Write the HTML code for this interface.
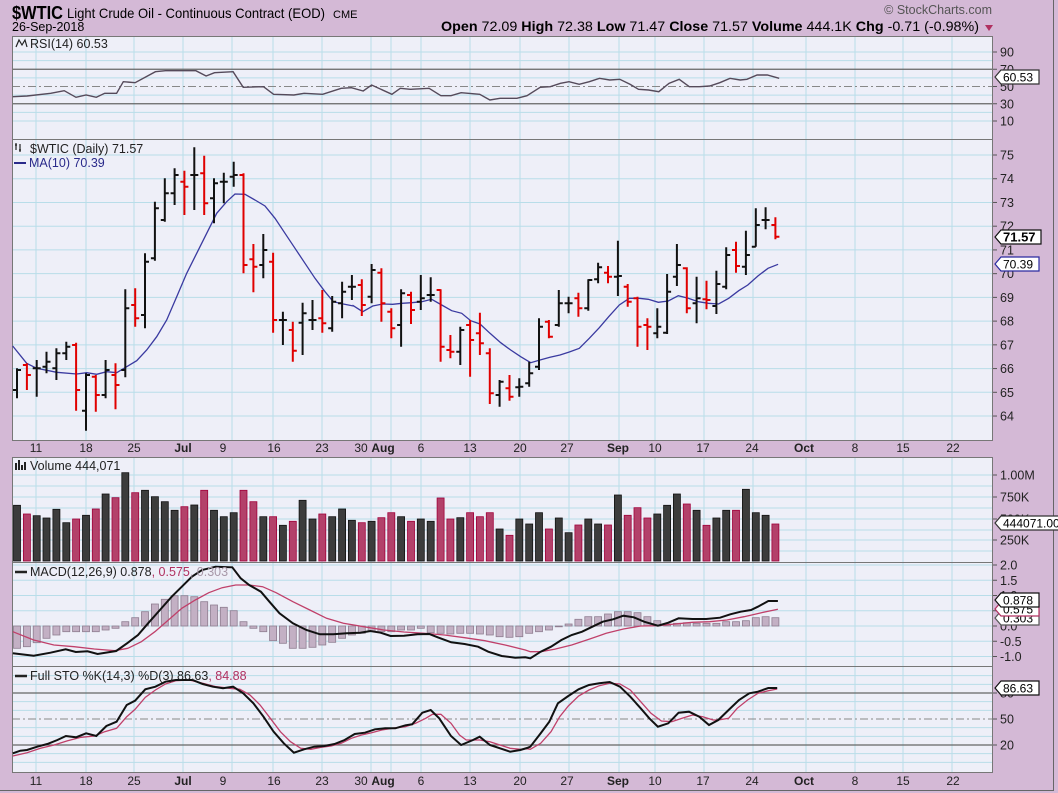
<!DOCTYPE html>
<html><head><meta charset="utf-8"><style>
html,body{margin:0;padding:0;background:#d4b9d6;}
svg{display:block;font-family:"Liberation Sans",sans-serif;}
</style></head><body>
<svg id="s" width="1058" height="793" viewBox="0 0 1058 793" xmlns="http://www.w3.org/2000/svg">
<rect x="0" y="0" width="1058" height="793" fill="#d4b9d6"/>
<line x1="1053.5" y1="0" x2="1053.5" y2="791" stroke="#666"/>
<line x1="0" y1="790.5" x2="1054" y2="790.5" stroke="#666"/>
<g id="bg"></g>
<g id="grid"></g>
<g id="data"></g>
<g font-size="12" fill="#000">
<text x="12" y="19" font-size="18" font-weight="bold" textLength="51" lengthAdjust="spacingAndGlyphs">$WTIC</text>
<text x="67" y="18" font-size="14" textLength="258" lengthAdjust="spacingAndGlyphs">Light Crude Oil - Continuous Contract (EOD)</text>
<text x="333" y="18" font-size="11">CME</text>
<text x="12" y="31" font-size="12.5">26-Sep-2018</text>
<text x="992" y="14" font-size="12.5" fill="#555" text-anchor="end">© StockCharts.com</text>
<text x="441" y="31" font-size="13.5" textLength="538" lengthAdjust="spacingAndGlyphs"><tspan font-weight="bold">Open</tspan> 72.09  <tspan font-weight="bold">High</tspan> 72.38  <tspan font-weight="bold">Low</tspan> 71.47  <tspan font-weight="bold">Close</tspan> 71.57  <tspan font-weight="bold">Volume</tspan> 444.1K  <tspan font-weight="bold">Chg</tspan> -0.71 (-0.98%)</text>
<path d="M985 25 L993 25 L989 31 Z" fill="#b03060"/>
</g>
<g font-size="12.5" fill="#222">
<text x="30" y="48">RSI(14) 60.53</text>
<text x="30" y="153">$WTIC (Daily) 71.57</text>
<text x="29" y="167" fill="#2a2a8a">MA(10) 70.39</text>
<text x="30" y="470">Volume 444,071</text>
<text x="30" y="576">MACD(12,26,9) 0.878<tspan fill="#b03060">, 0.575</tspan><tspan fill="#a898a8">, 0.303</tspan></text>
<text x="30" y="680">Full STO %K(14,3) %D(3) 86.63<tspan fill="#b03060">, 84.88</tspan></text>
</g>
<g stroke="#222" stroke-width="1.2" fill="none">
<path d="M16 47 L19 40 L22 45 L25 40 L27 47"/>
<path d="M16 150 L16 143 M15 145 L17 145 M20 152 L20 144 M19 150 L21 150"/>
<path d="M16 470 V463 M19 470 V460 M22 470 V465 M25 470 V462" stroke-width="2"/>
</g>
<line x1="14" y1="163" x2="26" y2="163" stroke="#2a2a8a" stroke-width="2"/>
<line x1="15" y1="572" x2="27" y2="572" stroke="#222" stroke-width="2.5"/>
<line x1="15" y1="676" x2="27" y2="676" stroke="#222" stroke-width="2.5"/>
<g id="axis" font-size="12" fill="#222"></g>
<g id="tags" font-size="12"></g>
</svg>
<script>
(function(){
var NS="http://www.w3.org/2000/svg";
function el(p,t,a,txt){var e=document.createElementNS(NS,t);for(var k in a)e.setAttribute(k,a[k]);if(txt!=null)e.textContent=txt;document.getElementById(p).appendChild(e);return e;}
var L=12,R=993;
var panels=[[36,139],[139,440],[457,562],[562,666],[666,772]];
panels.forEach(function(p){el('bg','rect',{x:L,y:p[0],width:R-L,height:p[1]-p[0],fill:'#eeeff8'});});
var vx=[36,86,134,183,232,273,322,371,391,421,470,520,569,619,655,704,753,806,855,903,952];
panels.forEach(function(p){vx.forEach(function(x){el('grid','line',{x1:x,y1:p[0],x2:x,y2:p[1],stroke:'#b8dde9','stroke-width':1});});});
function hl(y,c,w,d){var a={x1:L,y1:y,x2:R,y2:y,stroke:c,'stroke-width':w||1};if(d)a['stroke-dasharray']=d;el('grid','line',a);}
function ry(v){return 121-(v-10)*(121-52)/80;}
for(var v=10;v<=90;v+=10){if(v!=70&&v!=30&&v!=50)hl(ry(v),'#b8dde9');}
hl(ry(70),'#666',1.2);hl(ry(30),'#666',1.2);hl(ry(50),'#888',1,'8,3,2,3');
function py(p){return 155+(75-p)*23.73;}
for(var p=64;p<=75;p++)hl(py(p),'#b8dde9');
[475,486,497,508,519,530,540,551].forEach(function(y){hl(y,'#b8dde9');});
function my(v){return 626-v*30.5;}
for(var v=-1;v<=2;v+=0.5)hl(my(v),'#b8dde9');
function sty(v){return 745-(v-20)*(745-693)/60;}
for(var v=0;v<=100;v+=10){if(v!=80&&v!=20&&v!=50)hl(sty(v),'#b8dde9');}
hl(sty(80),'#666',1.2);hl(sty(20),'#666',1.2);hl(sty(50),'#888',1,'8,3,2,3');
panels.forEach(function(p){el('grid','rect',{x:L+0.5,y:p[0]+0.5,width:R-L-1,height:p[1]-p[0],fill:'none',stroke:'#777','stroke-width':1});});
function bx(i){return 17+i*9.85;}
var B=[[685,775,750,690,0],[670,750,675,705,1],[660,770,685,685,0],[635,700,680,665,0],[625,720,685,640,0],[605,660,640,620,0],[608,812,615,750,1],[700,872,812,705,0],[705,815,710,765,1],[660,775,765,690,0],[670,808,705,735,1],[448,712,690,505,0],[445,560,495,535,1],[340,565,525,365,0],[185,362,355,205,0],[115,245,240,160,0],[85,195,160,105,0],[92,225,125,140,1],[22,210,105,105,0],[47,225,100,190,1],[115,250,175,130,0],[98,190,125,125,0],[65,140,110,105,0],[100,400,105,375,1],[312,457,358,380,1],[282,415,375,330,0],[338,578,365,540,1],[515,615,540,540,0],[545,665,570,632,1],[488,645,548,520,0],[480,570,540,540,0],[450,578,535,550,1],[468,575,565,485,0],[425,535,490,455,0],[405,480,440,440,0],
[418,528,435,495,1],[372,490,470,390,0],[385,545,398,490,1],[505,595,515,565,1],[448,620,555,460,0],[455,552,465,510,1],[405,510,485,475,0],[412,485,465,465,0],[448,665,450,620,1],[585,655,630,635,1],[560,675,635,570,0],[540,710,555,600,1],[518,645,580,610,1],[625,792,640,760,1],[720,800,765,725,0],[705,782,745,770,1],[715,770,742,740,0],[665,740,730,700,0],[535,690,680,560,0],[540,595,545,590,1],[450,560,555,490,0],[470,520,490,490,0],[458,530,475,505,1],[418,512,505,420,0],[368,430,418,382,0],[378,430,398,410,1],[302,468,410,408,0],[432,500,440,485,1],[470,620,475,560,1],[535,630,555,560,1],[505,595,580,560,0],[402,582,578,455,0],[312,438,410,375,0],[382,520,385,505,1],
[410,550,490,475,0],[422,508,478,480,1],[392,522,498,432,0],[322,448,440,345,0],[305,398,330,378,1],[272,405,380,345,0],[205,320,320,255,0],[202,268,240,240,0],[232,298,255,290,1]];
var d0='',d1='';
B.forEach(function(b,i){var x=bx(i).toFixed(1),Y=function(z){return (140+z/3).toFixed(1);};
var s='M'+x+' '+Y(b[0])+'V'+Y(b[1])+'M'+(x-4)+' '+Y(b[2])+'H'+x+'M'+x+' '+Y(b[3])+'H'+(+x+4);
if(b[4])d1+=s;else d0+=s;});
function P(a,ox,sx,oy){var o=[];for(var i=0;i<a.length;i+=2)o.push((ox+a[i]/sx).toFixed(1)+','+(oy+a[i+1]/3).toFixed(1));return o.join(' ');}
var ma=P([38,618,80,670,110,685,170,697,230,702,260,698,290,703,320,695,350,698,380,680,410,662,440,630,470,590,500,540,530,470,560,400,590,340,620,280,650,220,680,185,705,162,735,163,765,180,795,198,825,235,855,280,885,325,915,370,945,415,975,455,1000,485,1030,492,1060,498],0,3,140)+' '+
P([40,497,68,515,98,498,128,492,158,493,186,490,215,488,245,485,275,478,305,495,335,512,365,520,392,542,420,552,450,580,482,608,512,630,542,650,572,668,600,660,630,652,660,645,688,636,718,625,748,595,778,563,806,530,838,495,868,475,898,475,925,478,955,487,985,483,1015,467,1045,475,1075,485],340,3,140)+' '+
P([55,490,85,492,115,475,145,452,172,435,202,408,232,385,262,373],690,2.975,140);
el('data','polyline',{points:ma,fill:'none',stroke:'#3a3aa0','stroke-width':1.3});
el('data','path',{d:d0,stroke:'#111','stroke-width':2,fill:'none'});
el('data','path',{d:d1,stroke:'#e00000','stroke-width':2,fill:'none'});
var V=[166,192,197,204,178,218,207,196,177,132,143,68,128,121,140,155,181,170,165,121,181,200,188,121,155,200,200,226,214,151,207,192,200,177,211,218,214,203,188,200,214,207,214,144,207,203,188,200,188,237,256,207,222,188,237,204,248,225,207,222,225,135,196,173,204,192,166,132,162,181,226,204,181,181,118,188,196,222];
V.forEach(function(z,i){var y=450+z/3;var r=B[i][4];el('data','rect',{x:(bx(i)-3.5).toFixed(1),y:y.toFixed(1),width:7,height:(561-y).toFixed(1),fill:r?'#b3416a':'#3c3c3c',stroke:r?'#a0003a':'#111','stroke-width':0.8});});
var H=[595,590,578,565,555,545,545,545,545,540,535,515,503,485,462,448,437,437,440,455,465,472,482,515,535,545,572,580,595,595,592,585,577,565,555,550,545,545,545,540,540,535,548,550,552,550,550,552,555,560,562,560,550,545,540,530,522,508,500,500,492,485,485,488,500,512,522,520,518,520,520,520,515,515,512,503,500,503];
H.forEach(function(z,i){var y=450+z/3,b=626;el('data','rect',{x:(bx(i)-3.5).toFixed(1),y:Math.min(y,b).toFixed(1),width:7,height:Math.max(Math.abs(y-b),0.8).toFixed(1),fill:'#c3b0c4',stroke:'#8e7d90','stroke-width':0.8});});
var msig=P([38,545,100,570,160,585,220,590,280,597,340,602,380,595,420,575,460,545,500,510,540,475,580,450,620,428,660,413,700,405,740,405,780,410,820,428,870,455,920,480,970,505,1020,520,1080,530,1140,540,1200,546,1260,550,1320,555,1380,563,1440,572,1500,585,1560,600],0,2.97,450)+' '+
P([30,605,60,605,100,598,150,585,200,568,250,550,300,537,350,528,400,527,450,522,500,517,550,515,600,510,650,500,700,488,748,478],520,2.9,450);
var mline=P([38,610,100,617,150,608,195,598,225,606,260,604,290,612,345,603,380,578,410,555,440,520,475,480,510,440,540,410,570,380,600,360,640,350,690,352,715,385,740,405,775,425,800,455,830,490,870,520,910,540,950,553,990,553,1030,550,1070,548,1100,543,1130,548,1160,558,1200,557,1240,553,1275,552,1300,562,1340,577,1380,582,1420,590,1450,605,1490,618,1530,623,1560,622],0,2.97,450)+' '+
P([30,625,60,605,90,590,120,570,150,555,180,545,210,530,240,515,270,508,300,497,330,502,360,515,400,527,430,518,460,505,500,507,540,507,580,503,610,493,640,485,670,480,690,470,720,453,748,453],520,2.9,450);
el('data','polyline',{points:msig,fill:'none',stroke:'#c0406a','stroke-width':1.3});
el('data','polyline',{points:mline,fill:'none',stroke:'#111','stroke-width':2});
var rsi=P([38,290,80,288,150,280,190,272,225,292,255,285,285,292,310,280,345,280,365,245,400,248,460,215,490,212,580,212,610,228,635,218,690,215,720,262,780,260,810,283,870,285,900,280,955,283,1010,265,1040,263,1075,273,1100,255,1160,283,1185,265,1215,268,1270,265,1305,287,1335,287,1365,278,1420,283,1450,300,1480,295,1530,295,1560,287],0,2.96,0)+' '+
P([30,262,60,260,90,250,115,245,145,253,175,245,205,235,235,240,265,238,295,253,320,268,350,270,380,275,410,250,440,238,470,260,500,260,530,258,560,248,590,235,620,240,640,238,670,225,700,225,735,235],530,2.95,0);
el('data','polyline',{points:rsi,fill:'none',stroke:'#554a5a','stroke-width':1.4});
var sd=P([38,288,80,278,120,265,160,255,200,242,240,232,280,228,310,215,345,205,375,170,400,148,430,112,460,90,490,72,520,62,560,60,600,70,640,80,680,85,710,88,740,105,770,135,800,175,830,215,860,245,890,265,920,268,950,262,980,258,1010,250,1040,235,1070,225,1100,218,1130,210,1160,205,1200,200,1230,190,1260,175,1280,163,1305,163,1335,190,1360,225,1380,240,1420,240,1450,245,1480,255,1510,265,1540,268,1560,266],0,2.96,660)+' '+
P([30,268,60,250,90,215,115,170,140,138,170,108,200,90,230,77,260,70,290,72,320,90,350,125,380,160,410,183,440,185,470,175,500,165,530,170,560,180,575,180,605,175,630,145,660,120,690,100,720,92,746,87],520,2.9,660);
var sk=P([38,280,60,272,80,270,110,260,140,252,170,240,195,228,225,232,255,220,285,228,315,198,345,185,375,135,400,122,430,88,460,80,490,65,520,60,570,60,600,72,630,80,660,85,690,80,720,100,750,130,780,170,810,215,840,250,870,278,900,268,930,260,960,258,990,252,1020,240,1050,222,1080,218,1110,208,1140,205,1170,205,1200,196,1220,193,1250,158,1275,150,1300,175,1335,228,1365,255,1400,240,1420,230,1450,255,1480,265,1510,275,1540,270,1560,264],0,2.96,660)+' '+
P([30,260,60,220,85,185,110,130,140,108,170,88,200,75,230,70,260,66,290,80,320,110,350,145,375,175,400,200,430,190,460,158,490,155,520,170,548,195,575,180,605,150,635,120,665,100,690,95,720,84,746,84],520,2.9,660);
el('data','polyline',{points:sd,fill:'none',stroke:'#c0406a','stroke-width':1.3});
el('data','polyline',{points:sk,fill:'none',stroke:'#111','stroke-width':2});
var lab=[['11',36],['18',86],['25',134],['Jul',183,1],['9',223],['16',274],['23',322],['30',361],['Aug',383,1],['6',421],['13',470],['20',520],['27',567],['Sep',618,1],['10',655],['17',703],['24',752],['Oct',804,1],['8',855],['15',903],['22',953]];
[452,785].forEach(function(y){lab.forEach(function(l){var a={x:l[1],y:y,'text-anchor':'middle'};if(l[2])a['font-weight']='bold';el('axis','text',a,l[0]);});});
function rl(y,t){el('axis','line',{x1:R,y1:y,x2:R+4,y2:y,stroke:'#555'});el('axis','text',{x:R+7,y:y+4.5,'font-size':12.5},t);}
[[90,'90'],[70,'70'],[50,'50'],[30,'30'],[10,'10']].forEach(function(a){rl(ry(a[0]),a[1]);});
for(var p=64;p<=75;p++)rl(py(p),String(p));
[[475,'1.00M'],[497,'750K'],[519,'500K'],[540,'250K']].forEach(function(a){rl(a[0],a[1]);});
[[2,'2.0'],[1.5,'1.5'],[1,'1.0'],[0.5,'0.5'],[0,'0.0'],[-0.5,'-0.5'],[-1,'-1.0']].forEach(function(a){rl(my(a[0]),a[1]);});
[[80,'80'],[50,'50'],[20,'20']].forEach(function(a){rl(sty(a[0]),a[1]);});
function tag(y,t,stroke,bold,w){el('tags','path',{d:'M'+(R+2)+' '+y+' l6 -7 h'+w+' v14 h-'+w+' z',fill:'#fff',stroke:stroke,'stroke-width':1.2});var a={x:R+10,y:y+4.5,fill:'#000'};if(bold){a['font-weight']='bold';a['font-size']=13;}el('tags','text',a,t);}
tag(77,'60.53','#333',0,38);
tag(237,'71.57','#111',1,40);
tag(264,'70.39','#2a2aa0',0,38);
tag(523,'444071.00','#333',0,60);
tag(618,'0.303','#555',0,38);
tag(609,'0.575','#b03060',0,38);
tag(600,'0.878','#111',0,38);
tag(688,'86.63','#111',0,38);
})();
</script>
</body></html>
